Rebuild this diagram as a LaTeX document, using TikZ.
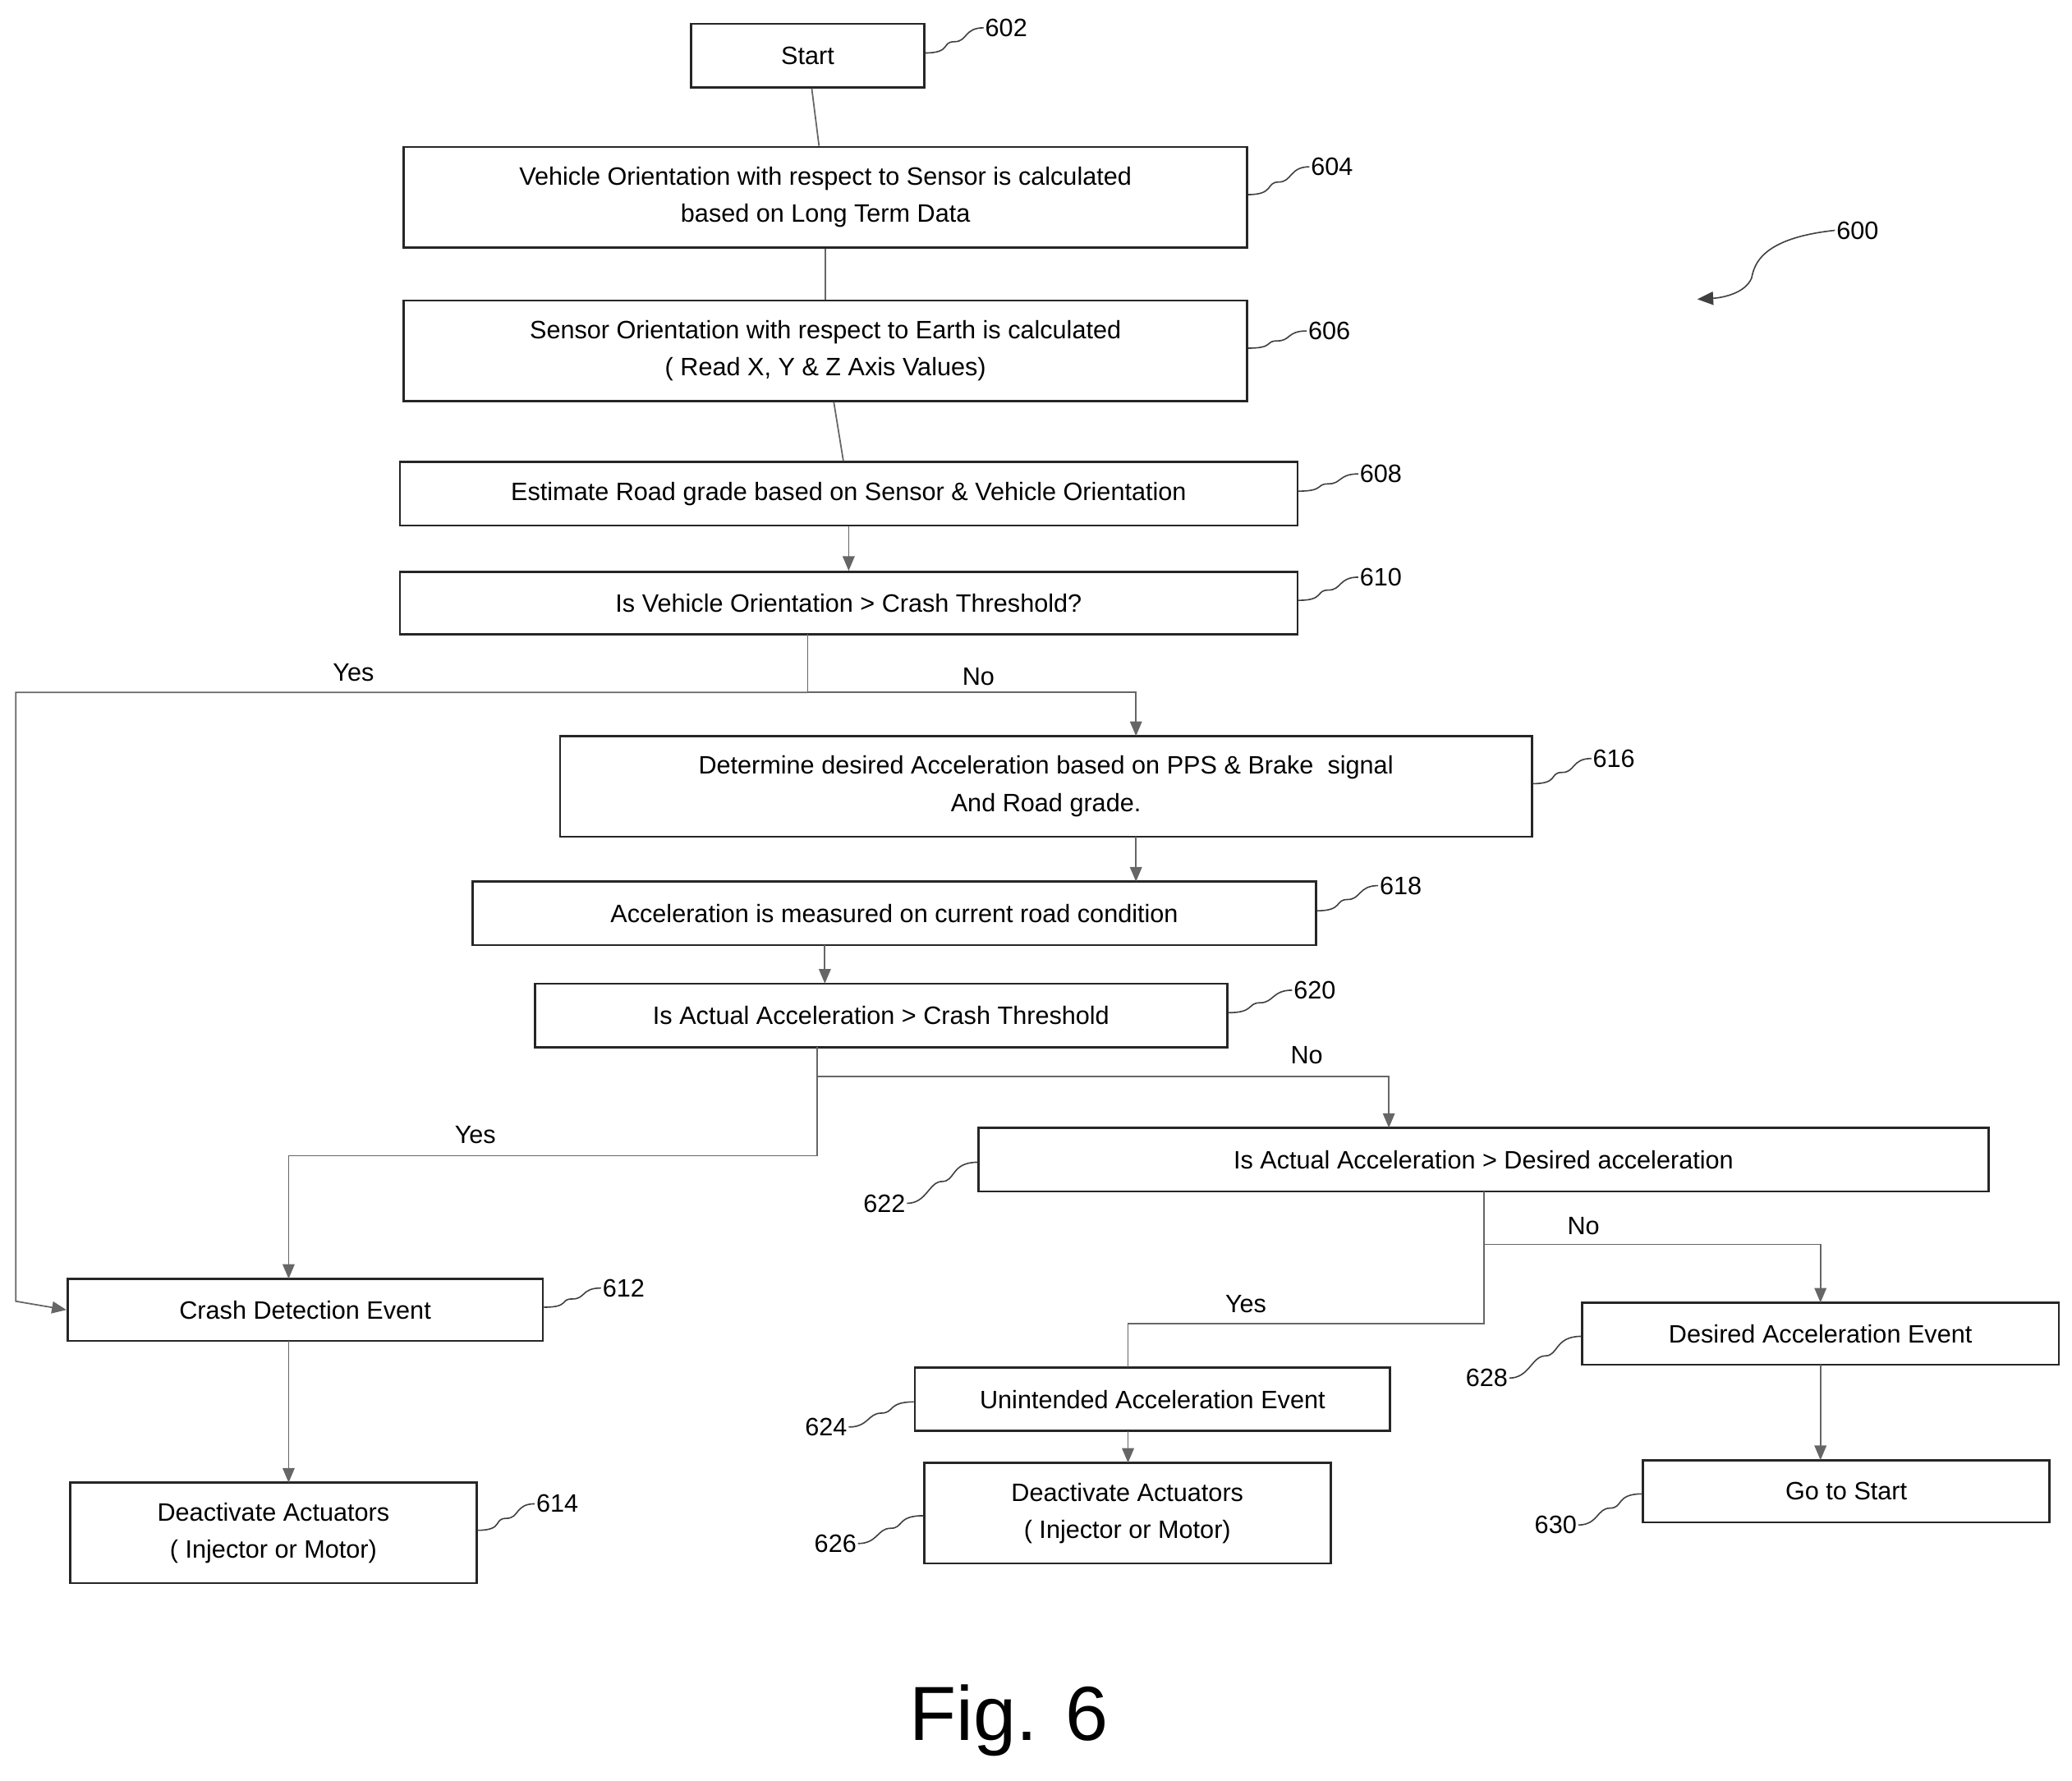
\documentclass[tikz,border=0pt]{standalone}
\usepackage{fontspec}
\setmainfont{Liberation Sans}
\usetikzlibrary{arrows.meta,calc}
\begin{document}
\begin{tikzpicture}[x=1pt,y=-1pt,
  box/.style={draw=black!85,line width=1.6pt,align=center,font=\fontsize{19}{28}\selectfont,inner sep=0pt},
  ln/.style={draw=black!60,line width=1.1pt},
  ar/.style={ln,-{Triangle[length=11pt,width=9pt]}},
  lab/.style={font=\fontsize{19}{22}\selectfont},
  ref/.style={font=\fontsize{19}{22}\selectfont,inner sep=1pt},
  lead/.style={draw=black!75,line width=1pt}]
\useasboundingbox (0,0) rectangle (1565,1345);
\newcommand{\bx}[6]{\node[box,minimum width={#4-#2},minimum height={#5-#3}] (#1) at ({(#2+#4)/2},{(#3+#5)/2}) {#6};}
\bx{b602}{522}{18}{698}{66}{Start}
\bx{b604}{305}{111}{942}{187}{Vehicle Orientation with respect to Sensor is calculated\\based on Long Term Data}
\bx{b606}{305}{227}{942}{303}{Sensor Orientation with respect to Earth is calculated\\( Read X, Y \& Z Axis Values)}
\bx{b608}{302}{349}{980}{397}{Estimate Road grade based on Sensor \& Vehicle Orientation}
\bx{b610}{302}{432}{980}{479}{Is Vehicle Orientation > Crash Threshold?}
\bx{b616}{423}{556}{1157}{632}{Determine desired Acceleration based on PPS \& Brake\ \ signal\\And Road grade.}
\bx{b618}{357}{666}{994}{714}{Acceleration is measured on current road condition}
\bx{b620}{404}{743}{927}{791}{Is Actual Acceleration > Crash Threshold}
\bx{b622}{739}{852}{1502}{900}{Is Actual Acceleration > Desired acceleration}
\bx{b612}{51}{966}{410}{1013}{Crash Detection Event}
\bx{b614}{53}{1120}{360}{1196}{Deactivate Actuators\\( Injector or Motor)}
\bx{b624}{691}{1033}{1050}{1081}{Unintended Acceleration Event}
\bx{b626}{698}{1105}{1005}{1181}{Deactivate Actuators\\( Injector or Motor)}
\bx{b628}{1195}{984}{1555}{1031}{Desired Acceleration Event}
\bx{b630}{1241}{1103}{1548}{1150}{Go to Start}
% reference labels
\node[ref] (l602) at (760,21) {602};
\node[ref] (l604) at (1006,126) {604};
\node[ref] (l606) at (1004,250) {606};
\node[ref] (l608) at (1043,358) {608};
\node[ref] (l610) at (1043,436) {610};
\node[ref] (l616) at (1219,573) {616};
\node[ref] (l618) at (1058,669) {618};
\node[ref] (l620) at (993,748) {620};
\node[ref] (l612) at (471,973) {612};
\node[ref] (l614) at (421,1136) {614};
\node[ref] (l622) at (668,909) {622};
\node[ref] (l624) at (624,1078) {624};
\node[ref] (l626) at (631,1166) {626};
\node[ref] (l628) at (1123,1041) {628};
\node[ref] (l630) at (1175,1152) {630};
\node[ref] (l600) at (1403,174) {600};
\foreach \b/\l in {b602/l602,b604/l604,b606/l606,b608/l608,b610/l610,b616/l616,b618/l618,b620/l620,b612/l612,b614/l614}
  \draw[lead] ($(\b.east)+(0,-2)$) .. controls +(20,0) and +(-10,0) .. ($(\b.east)!0.5!(\l.west)$) .. controls +(10,0) and +(-15,0) .. (\l.west);
\foreach \b/\l in {b622/l622,b624/l624,b626/l626,b628/l628,b630/l630}
  \draw[lead] ($(\b.west)+(0,2)$) .. controls +(-20,0) and +(10,0) .. ($(\b.west)!0.5!(\l.east)$) .. controls +(-10,0) and +(15,0) .. (\l.east);
\draw[lead,-{Triangle[length=12pt,width=10pt]}] (l600.west) .. controls (1330,180) and (1325,200) .. (1323,210) .. controls (1318,222) and (1300,225) .. (1282,226);
% connectors
\draw[ln] (b602) -- (b604);
\draw[ln] (b604) -- (b606);
\draw[ln] (b606) -- (b608);
\draw[ar] (b608.south) -- (b610.north);
\coordinate (j1) at (610,523);
\draw[ln] (610,479) -- (j1);
\draw[ar] (j1) -- (12,523) -- (12,983) -- (b612.west);
\draw[ar] (j1) -- (858,523) -- (858,556);
\draw[ar] (858,632) -- (858,666);
\draw[ar] (623,714) -- (623,743);
\coordinate (j2) at (617,813);
\draw[ln] (617,791) -- (j2);
\draw[ar] (j2) -- (1049,813) -- (1049,852);
\draw[ar] (j2) -- (617,873) -- (218,873) -- (218,966);
\draw[ar] (218,1013) -- (218,1120);
\coordinate (j3) at (1121,940);
\draw[ln] (1121,900) -- (j3);
\draw[ar] (j3) -- (1375,940) -- (1375,984);
\draw[ln] (j3) -- (1121,1000) -- (852,1000) -- (852,1033);
\draw[ar] (852,1081) -- (852,1105);
\draw[ar] (1375,1031) -- (1375,1103);
% branch labels
\node[lab] (y1) at (267,508) {Yes};
\node[lab] (n1) at (739,511) {No};
\node[lab] (n2) at (987,797) {No};
\node[lab] (y2) at (359,857) {Yes};
\node[lab] (n3) at (1196,926) {No};
\node[lab] (y3) at (941,985) {Yes};
\node[font=\fontsize{58}{60}\selectfont] (fig) at (762,1300) {Fig. 6};
\end{tikzpicture}
\end{document}
